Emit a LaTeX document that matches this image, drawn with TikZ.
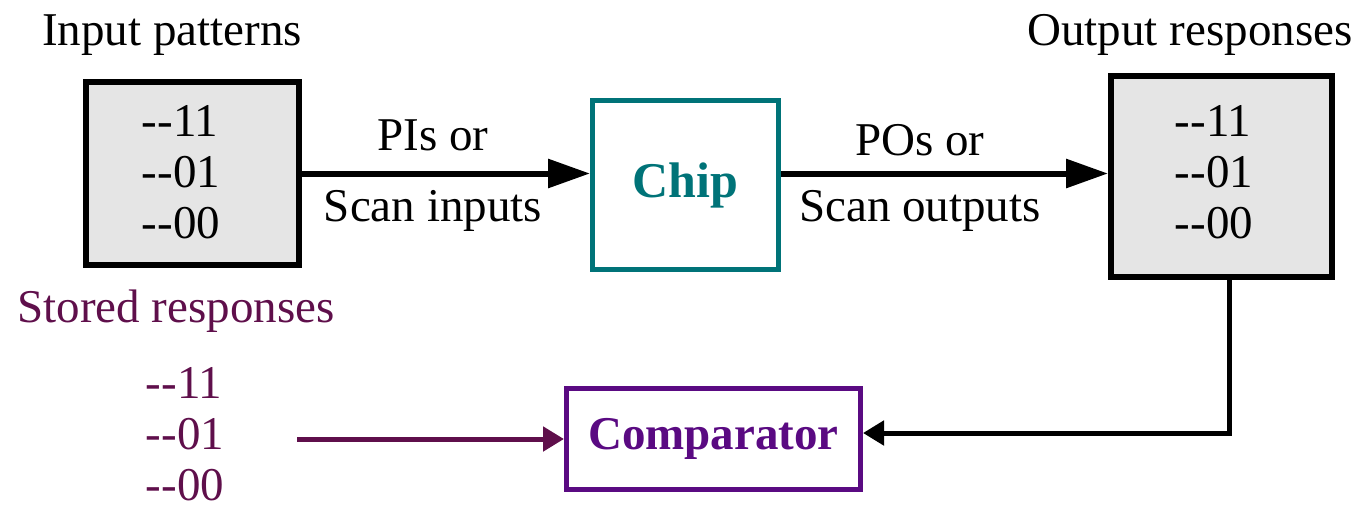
\documentclass[tikz,border=0pt]{standalone}
\usepackage{fontspec}
\setmainfont{Liberation Serif}
\usetikzlibrary{arrows.meta}
\definecolor{teal1}{RGB}{0,115,120}
\definecolor{purp}{RGB}{90,10,130}
\definecolor{maroon1}{RGB}{95,15,75}
\definecolor{boxgray}{RGB}{229,229,229}
\tikzset{
  big/.style={font=\fontsize{47}{51}\selectfont},
  databox/.style={draw=black, line width=6pt, fill=boxgray, inner sep=0pt},
  boxtext/.style={big, align=left, inner sep=0pt},
  bigarr/.style={line width=6pt, -{Triangle[length=42pt,width=28pt]}},
  smallarr/.style={line width=5pt, -{Triangle[length=21pt,width=24pt]}},
}
\begin{document}
\begin{tikzpicture}[x=1pt,y=-1pt]
\useasboundingbox (0,0) rectangle (1359,509);
% boxes
\node[databox, minimum width=213pt, minimum height=183pt] (in) at (192.5,173.5) {};
\node[boxtext] (intext) at (181,172) {-{}-11\\-{}-01\\-{}-00};
\node[draw=teal1, line width=5pt, minimum width=186pt, minimum height=169pt, inner sep=0pt,
      font=\fontsize{50}{54}\selectfont\bfseries, text=teal1] (chip) at (685.5,185) {Chip};
\node[databox, minimum width=221pt, minimum height=201pt] (out) at (1221.5,176.5) {};
\node[boxtext] (outtext) at (1214,172) {-{}-11\\-{}-01\\-{}-00};
\node[draw=purp, line width=5pt, minimum width=294pt, minimum height=101pt, inner sep=0pt,
      font=\fontsize{47}{51}\selectfont\bfseries, text=purp] (comp) at (713.5,439) {Comparator};
% labels
\node[big, anchor=base] (lin) at (172,45) {Input patterns};
\node[big, anchor=base] (lout) at (1190,45) {Output responses};
\node[big, anchor=base] (pi1) at (433,150) {PIs or};
\node[big, anchor=base] (pi2) at (433,221) {Scan inputs};
\node[big, anchor=base] (po1) at (920,155) {POs or};
\node[big, anchor=base] (po2) at (920,221) {Scan outputs};
\node[big, anchor=base, text=maroon1] (lst) at (176,322) {Stored responses};
\node[boxtext, text=maroon1] (st) at (185,434) {-{}-11\\-{}-01\\-{}-00};
\coordinate (stend) at (297,439);
% connectors
\draw[bigarr] (in.east) -- (in.east -| chip.west);
\draw[bigarr] (chip.east |- in.east) -- (out.west |- in.east);
\draw[smallarr] ([xshift=7.5pt]out.south) |- ([yshift=6pt]comp.east);
\draw[smallarr, draw=maroon1, fill=maroon1] (stend) -- (stend -| comp.west);
\end{tikzpicture}
\end{document}
